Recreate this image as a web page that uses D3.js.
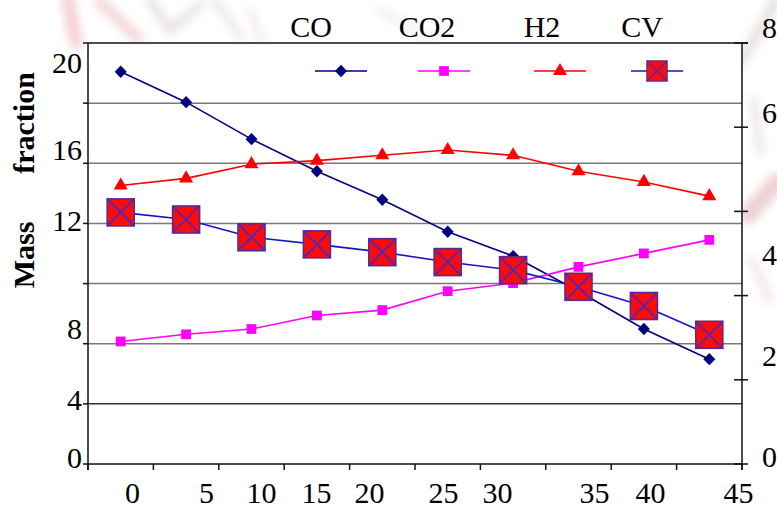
<!DOCTYPE html>
<html>
<head>
<meta charset="utf-8">
<script src="https://cdn.jsdelivr.net/npm/d3@7/dist/d3.min.js"></script>
<style>
  html, body { margin: 0; padding: 0; background: #fff; }
  svg { display: block; font-family: "Liberation Serif", "Times New Roman", serif; }
</style>
</head>
<body>
<svg id="chart" width="777" height="508"></svg>
<script>
// Gasification time (min) for each sample
const times = [0, 5, 10, 15, 20, 25, 30, 35, 40, 45];

// Gas composition, mass fraction (left axis)
const coValues  = [19.6, 18.2, 16.5, 14.8, 13.2, 11.6, 10.7, 9.4, 8.0, 6.3];
const co2Values = [7.3, 7.7, 8.0, 8.5, 8.7, 9.4, 9.7, 10.3, 10.8, 11.3];
const h2Values  = [14.0, 14.4, 15.2, 15.4, 15.7, 16.0, 15.7, 14.8, 14.2, 13.4];
// Calorific value (right axis)
const cvValues  = [4.6, 4.5, 4.25, 4.15, 4.04, 3.86, 3.70, 3.37, 2.99, 2.42];

const seriesNames = ["CO", "CO2", "H2", "CV"];

// Axis tick labels
const massTicks = [0, 4, 8, 12, 16, 20];
const cvTicks = [0, 2, 4, 6, 8];
const timeTicks = [0, 5, 10, 15, 20, 25, 30, 35, 40, 45];

// ---- layout ----
const svg = d3.select("#chart");
const plotL = 88, plotR = 742, plotT = 43, plotB = 464;

const x = d3.scaleBand().domain(times).range([plotL, plotR]);
const cx = d => x(d) + x.bandwidth() / 2;

// horizontal grid: seven equal bands
const yGrid = d3.scaleLinear().domain([0, 7]).range([plotB, plotT]);
// value scales anchored where the tick labels are printed
const yMass = d3.scaleLinear().domain(massTicks).range([458, 400, 329, 221, 150, 63]);
const yCV = d3.scaleLinear().domain(cvTicks).range([457, 356, 255, 113, 28]);
const yRightTick = d3.scaleLinear().domain([0, 10]).range([plotB, plotT]);
// bottom labels spread along the axis
const xLabel = d3.scaleLinear().domain(timeTicks)
  .range([132, 206, 261, 316, 369, 443, 497, 594, 650, 738]);

// ---- faint background texture ----
const defs = svg.append("defs");
defs.append("filter").attr("id", "soft")
  .attr("x", "-30%").attr("y", "-30%").attr("width", "160%").attr("height", "160%")
  .append("feGaussianBlur").attr("stdDeviation", 4);

const haze = svg.append("g").attr("filter", "url(#soft)").attr("fill", "none")
  .attr("stroke-linecap", "round");
const hazeStrokes = [
  {p: [[68, 0], [76, 42]], c: "#f4d3d8", w: 14},
  {p: [[100, 2], [138, 38]], c: "#f3d9dc", w: 12},
  {p: [[150, 0], [170, 30], [200, 5]], c: "#ebe6e6", w: 10},
  {p: [[215, 0], [240, 36]], c: "#efe9e9", w: 9},
  {p: [[250, 10], [262, 40]], c: "#f5eaeb", w: 7},
  {p: [[380, 10], [430, 40]], c: "#f4f1f1", w: 9},
  {p: [[742, 60], [777, 0]], c: "#e9e4e4", w: 12},
  {p: [[754, 100], [760, 150]], c: "#ece8e8", w: 9},
  {p: [[748, 215], [777, 182]], c: "#ecd2d5", w: 18},
  {p: [[752, 260], [770, 300]], c: "#f3e9ea", w: 9}
];
haze.selectAll("path").data(hazeStrokes).join("path")
  .attr("d", d => d3.line()(d.p))
  .attr("stroke", d => d.c)
  .attr("stroke-width", d => d.w);

// plot area
svg.append("rect")
  .attr("x", plotL).attr("y", plotT)
  .attr("width", plotR - plotL).attr("height", plotB - plotT)
  .attr("fill", "#fff");

// grid lines (the lowest one is drawn darker)
svg.append("g").selectAll("line")
  .data(d3.range(1, 7)).join("line")
  .attr("x1", plotL).attr("x2", plotR)
  .attr("y1", d => yGrid(d)).attr("y2", d => yGrid(d))
  .attr("stroke", d => d === 1 ? "#333" : "#7a7a7a").attr("stroke-width", 1.5);

// frame: top, left, bottom, right
const frame = svg.append("g").attr("stroke", "#111").attr("stroke-width", 1.5);
frame.append("line").attr("x1", plotL).attr("x2", plotR + 6).attr("y1", plotT).attr("y2", plotT);
frame.append("line").attr("x1", plotL).attr("x2", plotL).attr("y1", plotT).attr("y2", plotB + 6);
frame.append("line").attr("x1", plotL).attr("x2", plotR).attr("y1", plotB).attr("y2", plotB);
frame.append("line").attr("x1", plotR).attr("x2", plotR).attr("y1", plotT).attr("y2", plotB + 6);

// left tick marks at grid lines
frame.append("g").selectAll("line").data(d3.range(0, 8)).join("line")
  .attr("x1", plotL - 5).attr("x2", plotL)
  .attr("y1", d => yGrid(d)).attr("y2", d => yGrid(d));
// right tick marks
frame.append("g").selectAll("line").data(d3.range(0, 12, 2)).join("line")
  .attr("x1", plotR - 8).attr("x2", plotR + 6)
  .attr("y1", d => yRightTick(d)).attr("y2", d => yRightTick(d));
// bottom tick marks at category boundaries
frame.append("g").selectAll("line").data(d3.range(times.length + 1)).join("line")
  .attr("x1", d => plotL + d * x.step()).attr("x2", d => plotL + d * x.step())
  .attr("y1", plotB).attr("y2", plotB + 6);

// axis labels
const styleAxis = g => {
  g.select(".domain").remove();
  g.selectAll(".tick line").remove();
  g.selectAll("text").attr("font-size", 30).attr("fill", "#000")
    .attr("font-family", "'Liberation Serif', 'Times New Roman', serif");
};
svg.append("g").attr("transform", `translate(${plotL},0)`)
  .call(d3.axisLeft(yMass).tickValues(massTicks).tickSize(0).tickPadding(6))
  .call(styleAxis);
svg.append("g").attr("transform", `translate(${plotR},0)`)
  .call(d3.axisRight(yCV).tickValues(cvTicks).tickSize(0).tickPadding(20))
  .call(styleAxis);
svg.append("g").attr("transform", `translate(0,${plotB})`)
  .call(d3.axisBottom(xLabel).tickValues(timeTicks).tickSize(0).tickPadding(18))
  .call(styleAxis);

// y-axis title
const titleY = svg.append("g").attr("font-weight", "bold").attr("font-size", 30)
  .attr("text-anchor", "middle");
titleY.append("text").attr("transform", "translate(34,123) rotate(-90)").text("fraction");
titleY.append("text").attr("transform", "translate(34,255) rotate(-90)").text("Mass");

// ---- series ----
// diamond drawn as a square turned 45 degrees
const diamondPath = "M0,-6.2L6,0L0,6.2L-6,0Z";

const series = [
  {name: seriesNames[0], values: coValues,  y: yMass, line: "#000080", path: diamondPath, fill: "#000080"},
  {name: seriesNames[1], values: co2Values, y: yMass, line: "#ff00ff", path: d3.symbol(d3.symbolSquare, 95)(), fill: "#ff00ff"},
  {name: seriesNames[2], values: h2Values,  y: yMass, line: "#ff0000", path: d3.symbol(d3.symbolTriangle, 85)(), fill: "#ff0000"},
  {name: seriesNames[3], values: cvValues,  y: yCV,   line: "#1414c8", cv: true}
];

function drawMarker(g, s) {
  if (s.cv) {
    const h = 13.5;
    g.append("rect").attr("x", -h).attr("y", -h).attr("width", 2 * h).attr("height", 2 * h)
      .attr("fill", "#ff0a0a").attr("stroke", "#5a2a90").attr("stroke-width", 1.6);
    g.append("path").attr("d", `M${-h},${-h}L${h},${h}M${h},${-h}L${-h},${h}`)
      .attr("stroke", "#3a2ccc").attr("stroke-width", 1.6);
  } else {
    g.append("path").attr("d", s.path).attr("fill", s.fill);
  }
}

series.forEach(s => {
  const pts = times.map((t, i) => [cx(t), s.y(s.values[i])]);
  svg.append("path")
    .attr("d", d3.line()(pts))
    .attr("fill", "none").attr("stroke", s.line).attr("stroke-width", 1.6);
  svg.append("g").selectAll("g").data(pts).join("g")
    .attr("transform", d => `translate(${d[0]},${d[1]})`)
    .each(function () { drawMarker(d3.select(this), s); });
});

// ---- legend ----
const legendText = [311, 427, 542, 642];
const legendKey = [341, 444, 560, 657];
const legend = svg.append("g");
series.forEach((s, i) => {
  legend.append("text")
    .attr("x", legendText[i]).attr("y", 37)
    .attr("text-anchor", "middle").attr("font-size", 30).text(s.name);
  const k = legend.append("g").attr("transform", `translate(${legendKey[i]},71)`);
  k.append("line").attr("x1", -26).attr("x2", 26)
    .attr("stroke", s.line).attr("stroke-width", 1.6);
  const m = k.append("g");
  if (s.cv) m.attr("transform", "scale(0.75)");
  drawMarker(m, s);
});
</script>
</body>
</html>
